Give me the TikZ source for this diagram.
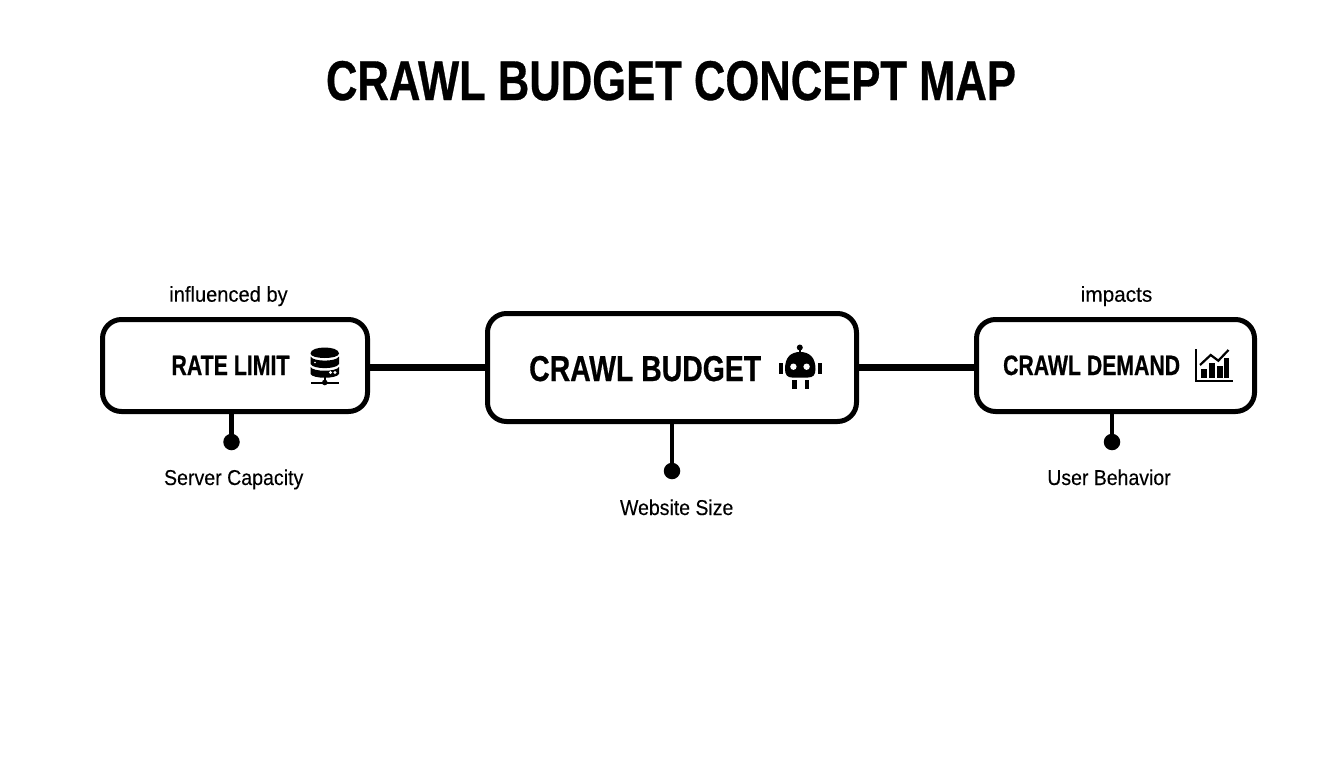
\documentclass[tikz,border=0pt]{standalone}
\usepackage{fontspec}
\usepackage{graphicx}
\setmainfont{Liberation Sans}[UprightFeatures={FakeBold=0.2},BoldFeatures={FakeBold=0.6}]
\newcommand{\fitw}[2]{\resizebox{#1pt}{\height}{#2}}
\tikzset{
  box/.style={draw=black,fill=white,line width=5pt,rounded corners=19pt,inner sep=0pt,outer sep=0pt},
  link/.style={draw=black,line width=7pt},
  stem/.style={draw=black,line width=4.5pt},
  dot/.style={circle,fill=black,minimum size=16.5pt,inner sep=0pt,outer sep=0pt},
  lab/.style={anchor=base,inner sep=0pt,outer sep=0pt,font=\fontsize{21.5}{26}\selectfont},
  boxlab/.style={anchor=base,inner sep=0pt,outer sep=0pt,font=\fontsize{28}{32}\selectfont\bfseries},
  icon/.style={fill=black,draw=none},
}
\begin{document}
\begin{tikzpicture}[x=1pt,y=-1pt]
\useasboundingbox[fill=white] (0,0) rectangle (1344,768);
% boxes
\node[box,minimum width=265pt,minimum height=92pt] (rate) at (235,365.5) {};
\node[box,minimum width=369pt,minimum height=108pt] (budget) at (672,367.5) {};
\node[box,minimum width=278pt,minimum height=92pt] (demand) at (1115.5,365.5) {};
% connectors
\draw[link] (rate.east |- budget.center) -- (budget.west);
\draw[link] (budget.east) -- (demand.west |- budget.center);
% dots + stems
\node[dot] (dotrate) at (231.5,442) {};
\node[dot] (dotbudget) at (672,471) {};
\node[dot] (dotdemand) at (1112,442) {};
\draw[stem] (dotrate.center) -- (dotrate.center |- rate.south);
\draw[stem] (dotbudget.center) -- (dotbudget.center |- budget.south);
\draw[stem] (dotdemand.center) -- (dotdemand.center |- demand.south);
% texts
\node[anchor=base,inner sep=0pt,outer sep=0pt,font=\fontsize{56}{64}\selectfont\bfseries] (title) at (671,100) {\fitw{690}{CRAWL BUDGET CONCEPT MAP}};
\node[boxlab] (ratetxt) at (230.5,375) {\fitw{118}{RATE LIMIT}};
\node[boxlab,font=\fontsize{36}{40}\selectfont\bfseries] (budgettxt) at (645.2,381) {\fitw{232}{CRAWL BUDGET}};
\node[boxlab] (demandtxt) at (1091.6,375) {\fitw{177}{CRAWL DEMAND}};
\node[lab] (inf) at (228.5,301.7) {\fitw{118.4}{influenced by}};
\node[lab] (imp) at (1116.5,301.7) {\fitw{71.6}{impacts}};
\node[lab] (srv) at (233.7,485) {\fitw{139.3}{Server Capacity}};
\node[lab] (web) at (676.7,515) {\fitw{113.3}{Website Size}};
\node[lab] (usr) at (1109,485) {\fitw{123.4}{User Behavior}};
% database icon
\fill[icon] (310.5,353.5) .. controls (310.5,345.5) and (339,345.5) .. (339,353.5) .. controls (339,359.5) and (310.5,359.5) .. (310.5,353.5) -- cycle;
\fill[icon] (310.5,356.5) .. controls (313,362) and (336.5,362) .. (339,356.5) -- (339,364) .. controls (336.5,369.5) and (313,369.5) .. (310.5,364) -- cycle;
\fill[icon] (310.5,367) .. controls (313,372) and (336.5,372) .. (339,367) -- (339,374) .. controls (336.5,379) and (313,379) .. (310.5,374) -- cycle;
\fill[white] (315,362.5) circle[radius=0.8];
\fill[white] (330.5,372.5) circle[radius=1.6] (335,372.5) circle[radius=1.6];
\fill[icon] (311,381.7) rectangle (339,383.5);
\fill[icon] (323.6,376) rectangle (326,382);
\fill[icon] (324.8,382.5) circle[radius=2.8];
% robot icon
\fill[icon] (799.8,347.5) circle[radius=3];
\fill[icon] (798.6,349) rectangle (801,354);
\fill[icon] (785,369) .. controls (785,357) and (791,352) .. (800,352) .. controls (809,352) and (815.5,357) .. (815.5,369) .. controls (815.5,375) and (813,377.5) .. (808,377.5) -- (792,377.5) .. controls (787.5,377.5) and (785,375) .. (785,369) -- cycle;
\fill[white] (793.4,366.7) circle[radius=3.2] (806.6,366.7) circle[radius=3.2];
\fill[icon] (779.3,363.3) rectangle (783.3,374);
\fill[icon] (817.7,363.3) rectangle (821.7,374);
\fill[icon] (792,380) rectangle (796.7,388.5);
\fill[icon] (804.7,380) rectangle (809.3,388.5);
% chart icon
\draw[black,line width=2.2pt] (1195.8,349) -- (1195.8,381) -- (1233,381);
\fill[icon] (1201.3,369) rectangle (1206.7,377.5);
\fill[icon] (1209.3,362.5) rectangle (1215,377.5);
\fill[icon] (1217.3,366) rectangle (1222.7,377.5);
\fill[icon] (1224.3,357.5) rectangle (1229.3,377.5);
\draw[black,line width=2.2pt] (1200,365) -- (1210.7,355) -- (1218.3,360.7) -- (1228.5,350);
\end{tikzpicture}
\end{document}
